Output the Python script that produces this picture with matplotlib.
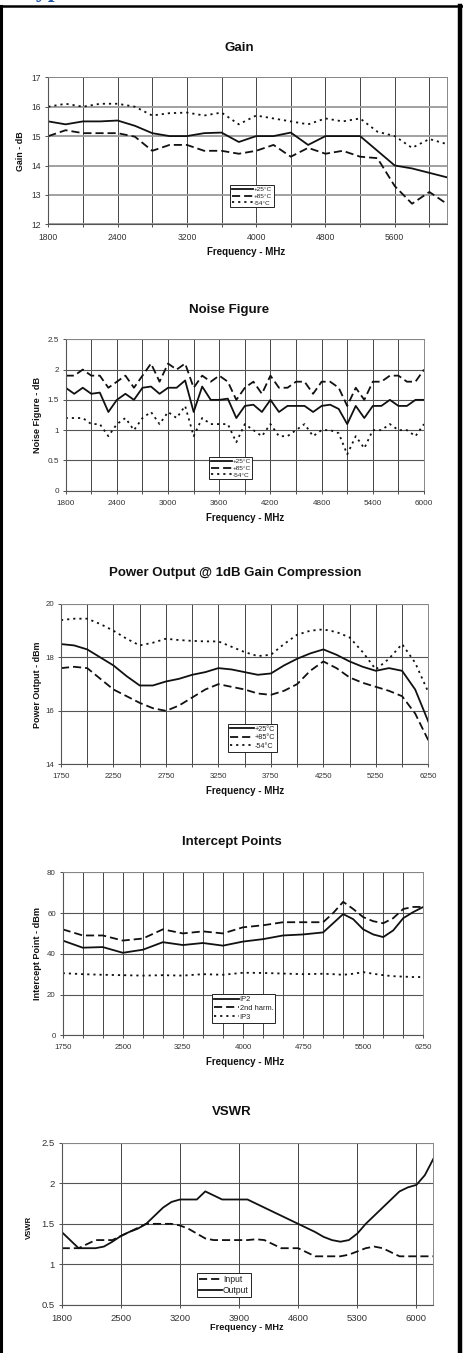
import matplotlib
matplotlib.use("Agg")
import matplotlib.pyplot as plt
from matplotlib.lines import Line2D

plt.rcParams['font.family'] = ['Liberation Sans', 'DejaVu Sans']

W, H = 464, 1353

# ---- Gain (Excel category axis: positions in gridline units) ----
gain_pos = [0, 0.5, 1, 1.5, 2, 2.5, 3, 3.5, 4, 4.5, 5, 5.5, 6, 6.5, 7, 7.5, 8, 8.5, 9, 9.5, 10, 10.5, 11, 11.5]
gain_25 = [15.5, 15.4, 15.5, 15.5, 15.53, 15.35, 15.1, 15.0, 15.0, 15.1, 15.12, 14.8, 15.0, 15.0, 15.12, 14.7,
           15.0, 15.0, 15.0, 14.5, 14.0, 13.9, 13.75, 13.6]
gain_85 = [15.0, 15.2, 15.1, 15.1, 15.1, 14.98, 14.5, 14.7, 14.7, 14.5, 14.5, 14.4, 14.5, 14.7, 14.3, 14.6,
           14.4, 14.5, 14.3, 14.25, 13.3, 12.7, 13.1, 12.7]
gain_54 = [16.0, 16.1, 16.0, 16.1, 16.1, 16.0, 15.7, 15.78, 15.8, 15.7, 15.8, 15.4, 15.7, 15.6, 15.5, 15.4,
           15.6, 15.5, 15.6, 15.15, 15.0, 14.6, 14.9, 14.73]
gain_xlabels = ['1800', '2400', '3200', '4000', '4800', '5600']

# ---- Noise figure ----
nf_freq = list(range(1800, 6001, 100))
nf_25 = [1.7, 1.6, 1.7, 1.6, 1.62, 1.3, 1.5, 1.6, 1.5, 1.7, 1.72, 1.6, 1.7, 1.7, 1.82, 1.3, 1.72, 1.5, 1.5, 1.52,
         1.2, 1.4, 1.42, 1.3, 1.5, 1.3, 1.4, 1.4, 1.4, 1.3, 1.4, 1.42, 1.35, 1.1, 1.4, 1.2, 1.4, 1.4, 1.5, 1.4,
         1.4, 1.5, 1.5]
nf_85 = [1.9, 1.9, 2.0, 1.9, 1.9, 1.7, 1.8, 1.9, 1.7, 1.9, 2.1, 1.8, 2.1, 2.0, 2.1, 1.7, 1.9, 1.8, 1.9, 1.8,
         1.5, 1.7, 1.8, 1.6, 1.9, 1.7, 1.7, 1.8, 1.8, 1.6, 1.8, 1.8, 1.7, 1.4, 1.7, 1.5, 1.8, 1.8, 1.9, 1.9,
         1.8, 1.8, 2.0]
nf_54 = [1.2, 1.2, 1.2, 1.1, 1.1, 0.9, 1.1, 1.2, 1.0, 1.2, 1.3, 1.1, 1.3, 1.2, 1.4, 0.9, 1.2, 1.1, 1.1, 1.1,
         0.8, 1.1, 1.0, 0.9, 1.1, 0.9, 0.9, 1.0, 1.1, 0.9, 1.0, 1.0, 0.95, 0.6, 0.9, 0.7, 1.0, 1.0, 1.1, 1.0,
         1.0, 0.9, 1.1]

# ---- Power output @ 1dB compression (category axis, gridline units) ----
pow_pos = [0, 0.5, 1, 1.5, 2, 2.5, 3, 3.5, 4, 4.5, 5, 5.5, 6, 6.5, 7, 7.5, 8, 8.5, 9, 9.5, 10, 10.5, 11, 11.5,
           12, 12.5, 13, 13.5, 14]
pow_25 = [18.5, 18.45, 18.3, 18.0, 17.7, 17.3, 16.95, 16.95, 17.1, 17.2, 17.35, 17.45, 17.6, 17.55, 17.45, 17.35,
          17.4, 17.7, 17.95, 18.15, 18.3, 18.1, 17.85, 17.65, 17.5, 17.6, 17.5, 16.8, 15.6]
pow_85 = [17.6, 17.65, 17.6, 17.2, 16.8, 16.55, 16.3, 16.1, 16.0, 16.2, 16.5, 16.8, 17.0, 16.9, 16.8, 16.65,
          16.6, 16.75, 17.0, 17.5, 17.85, 17.6, 17.25, 17.05, 16.9, 16.75, 16.55, 15.9, 14.9]
pow_54 = [19.4, 19.45, 19.45, 19.25, 19.0, 18.7, 18.45, 18.55, 18.7, 18.65, 18.62, 18.6, 18.6, 18.4, 18.2, 18.05,
          18.1, 18.5, 18.85, 19.0, 19.05, 18.95, 18.75, 18.2, 17.55, 17.95, 18.5, 17.8, 16.7]
pow_xlabels = ['1750', '2250', '2750', '3250', '3750', '4250', '5250', '6250']

# ---- Intercept points ----
ip_freq = [1750, 2000, 2250, 2500, 2750, 3000, 3250, 3500, 3750, 4000, 4250, 4500, 4750, 5000, 5125, 5250,
           5375, 5500, 5625, 5750, 5875, 6000, 6125, 6250]
ip2 = [46.5, 43, 43.3, 40.5, 42, 45.7, 44.3, 45.3, 44, 46, 47.2, 49, 49.5, 50.5, 55, 59.5, 57, 52, 49.5, 48.2,
       51.5, 57.5, 60.5, 63]
ip2_harm = [52, 49, 49, 46.5, 47.5, 52, 50, 51, 50, 53, 54, 55.5, 55.5, 55.5, 60, 65.5, 62, 58, 56, 55, 57.5,
            62, 63, 63]
ip3 = [30.5, 30, 29.7, 29.5, 29.3, 29.5, 29.3, 30, 29.7, 30.7, 30.6, 30.3, 30, 30.2, 30, 29.7, 30.2, 31, 30.2,
       29.5, 29, 28.8, 28.6, 28.6]

# ---- VSWR ----
vswr_freq = list(range(1800, 6201, 100))
vswr_in = [1.2, 1.2, 1.2, 1.25, 1.3, 1.3, 1.3, 1.35, 1.4, 1.45, 1.5, 1.5, 1.5, 1.5, 1.48, 1.44, 1.38, 1.32, 1.3,
           1.3, 1.3, 1.3, 1.3, 1.31, 1.3, 1.25, 1.2, 1.2, 1.2, 1.15, 1.1, 1.1, 1.1, 1.1, 1.12, 1.16, 1.2, 1.22,
           1.2, 1.15, 1.1, 1.1, 1.1, 1.1, 1.1]
vswr_out = [1.4, 1.3, 1.2, 1.2, 1.2, 1.22, 1.28, 1.35, 1.4, 1.44, 1.5, 1.6, 1.7, 1.77, 1.8, 1.8, 1.8, 1.9, 1.85,
            1.8, 1.8, 1.8, 1.8, 1.75, 1.7, 1.65, 1.6, 1.55, 1.5, 1.45, 1.4, 1.34, 1.3, 1.28, 1.3, 1.38, 1.5, 1.6,
            1.7, 1.8, 1.9, 1.95, 1.98, 2.1, 2.3]

temp_labels = ['+25\u00b0C', '+85\u00b0C', '-54\u00b0C']

SOLID = '-'
DASH = (0, (4.5, 2.2))
DOT = (0, (1.2, 2.2))
LC = '#111111'
LW = 1.3

fig = plt.figure(figsize=(W / 100, H / 100), dpi=100)


def make_ax(left, top, right, bottom):
    return fig.add_axes([left / W, 1 - bottom / H, (right - left) / W, (bottom - top) / H])


def style_ax(ax, xlim, ylim, major_x, minor_x, xlabels, yticks, ylabels, fs, hgrid_color='#555555', hgrid_lw=0.8):
    ax.set_xlim(*xlim)
    ax.set_ylim(*ylim)
    ax.set_xticks(major_x)
    ax.set_xticklabels(xlabels)
    ax.set_xticks(minor_x, minor=True)
    ax.set_yticks(yticks)
    ax.set_yticklabels(ylabels)
    ax.tick_params(which='both', direction='out', length=2.5, width=0.6, colors='#333333',
                   labelsize=fs, pad=2.5, top=False, right=False)
    ax.tick_params(axis='x', pad=4)
    ax.grid(True, axis='x', which='both', color='#444444', lw=0.7)
    ax.grid(True, axis='y', which='major', color=hgrid_color, lw=hgrid_lw)
    ax.set_axisbelow(True)
    for s in ['top', 'right']:
        ax.spines[s].set_linestyle((0, (1, 1)))
        ax.spines[s].set_color('#888888')
        ax.spines[s].set_linewidth(0.7)
    for s in ['left', 'bottom']:
        ax.spines[s].set_color('#555555')
        ax.spines[s].set_linewidth(0.8)


def add_legend(ax, handles, labels, x0, y0, fs=5, hl=3.3):
    leg = ax.legend(handles, labels, loc='upper left', bbox_to_anchor=(x0 / W, 1 - y0 / H),
                    bbox_transform=fig.transFigure, fontsize=fs, handlelength=hl, handletextpad=0.15,
                    borderpad=0.25, labelspacing=0.2, borderaxespad=0, fancybox=False, framealpha=1)
    leg.get_frame().set_edgecolor('#222222')
    leg.get_frame().set_linewidth(0.7)
    for t in leg.get_texts():
        t.set_color('#222222')


def fig_text(x, y, s, size, bold=True, rot=0):
    fig.text(x / W, 1 - y / H, s, ha='center', va='center', fontsize=size,
             fontweight='bold' if bold else 'normal', rotation=rot, color='#111111')


# ---------- Gain ----------
ax = make_ax(48.3, 77.3, 446.7, 224.3)
l1, = ax.plot(gain_pos, gain_25, color=LC, lw=LW, ls=SOLID)
l2, = ax.plot(gain_pos, gain_85, color=LC, lw=LW, ls=DASH)
l3, = ax.plot(gain_pos, gain_54, color=LC, lw=LW, ls=DOT)
style_ax(ax, (0, 11.5), (12, 17), [0, 2, 4, 6, 8, 10], [1, 3, 5, 7, 9, 11], gain_xlabels,
         [12, 13, 14, 15, 16, 17], ['12', '13', '14', '15', '16', '17'], 6.2, hgrid_color='#9a9a9a', hgrid_lw=1.3)
add_legend(ax, [l1, l2, l3], temp_labels, 230.5, 185, fs=4.6)
fig_text(239, 48, 'Gain', 9.5)
fig_text(246, 252, 'Frequency - MHz', 7)
fig_text(20.5, 151, 'Gain - dB', 6.4, rot=90)

# ---------- Noise figure ----------
ax = make_ax(65.7, 339.3, 424, 490.7)
l1, = ax.plot(nf_freq, nf_25, color=LC, lw=LW, ls=SOLID)
l2, = ax.plot(nf_freq, nf_85, color=LC, lw=LW, ls=DASH)
l3, = ax.plot(nf_freq, nf_54, color=LC, lw=LW, ls=DOT)
style_ax(ax, (1800, 6000), (0, 2.5), list(range(1800, 6001, 600)), list(range(2100, 6000, 600)),
         ['1800', '2400', '3000', '3600', '4200', '4800', '5400', '6000'],
         [0, 0.5, 1, 1.5, 2, 2.5], ['0', '0.5', '1', '1.5', '2', '2.5'], 5.9)
add_legend(ax, [l1, l2, l3], temp_labels, 209, 457, fs=4.6)
fig_text(229, 310, 'Noise Figure', 9.5)
fig_text(245, 518, 'Frequency - MHz', 7)
fig_text(37, 415, 'Noise Figure - dB', 6.6, rot=90)

# ---------- Power output ----------
ax = make_ax(61, 604, 428.3, 764.3)
l1, = ax.plot(pow_pos, pow_25, color=LC, lw=LW, ls=SOLID)
l2, = ax.plot(pow_pos, pow_85, color=LC, lw=LW, ls=DASH)
l3, = ax.plot(pow_pos, pow_54, color=LC, lw=LW, ls=DOT)
style_ax(ax, (0, 14), (14, 20), [0, 2, 4, 6, 8, 10, 12, 14], [1, 3, 5, 7, 9, 11, 13], pow_xlabels,
         [14, 16, 18, 20], ['14', '16', '18', '20'], 5.7)
add_legend(ax, [l1, l2, l3], temp_labels, 228, 724, fs=5.2)
fig_text(235, 573, 'Power Output @ 1dB Gain Compression', 9.5)
fig_text(245, 791, 'Frequency - MHz', 7)
fig_text(37, 685, 'Power Output - dBm', 6.4, rot=90)

# ---------- Intercept points ----------
ax = make_ax(62.7, 872.3, 423.3, 1035.3)
l1, = ax.plot(ip_freq, ip2, color=LC, lw=LW, ls=SOLID)
l2, = ax.plot(ip_freq, ip2_harm, color=LC, lw=LW, ls=DASH)
l3, = ax.plot(ip_freq, ip3, color=LC, lw=LW, ls=DOT)
style_ax(ax, (1750, 6250), (0, 80), list(range(1750, 6251, 750)),
         [f for f in range(1750, 6251, 250) if (f - 1750) % 750 != 0],
         ['1750', '2500', '3250', '4000', '4750', '5500', '6250'],
         [0, 20, 40, 60, 80], ['0', '20', '40', '60', '80'], 5.7)
add_legend(ax, [l1, l2, l3], ['IP2', '2nd harm.', 'IP3'], 212, 994, fs=5.4)
fig_text(232, 842, 'Intercept Points', 9.5)
fig_text(245, 1062, 'Frequency - MHz', 7)
fig_text(38, 953, 'Intercept Point - dBm', 6.6, rot=90)

# ---------- VSWR ----------
ax = make_ax(61.7, 1142.7, 433.3, 1305)
l1, = ax.plot(vswr_freq, vswr_in, color=LC, lw=LW, ls=DASH)
l2, = ax.plot(vswr_freq, vswr_out, color=LC, lw=LW, ls=SOLID)
style_ax(ax, (1800, 6200), (0.5, 2.5), list(range(1800, 6001, 700)), [],
         ['1800', '2500', '3200', '3900', '4600', '5300', '6000'],
         [0.5, 1, 1.5, 2, 2.5], ['0.5', '1', '1.5', '2', '2.5'], 6.8)
add_legend(ax, [l1, l2], ['Input', 'Output'], 197, 1273, fs=6.2, hl=2.6)
fig_text(232, 1112, 'VSWR', 9.5)
fig_text(247, 1328, 'Frequency - MHz', 6.6)
fig_text(29, 1227, 'VSWR', 5.6, rot=90)

# ---------- page frame and clipped heading ----------
fig.add_artist(Line2D([1.5 / W, 1.5 / W], [0, 1 - 6 / H], transform=fig.transFigure, color='black', lw=2.2))
fig.add_artist(Line2D([460 / W, 460 / W], [0, 1 - 6 / H], transform=fig.transFigure, color='black', lw=3.2))
fig.add_artist(Line2D([0, 1], [1 - 6 / H, 1 - 6 / H], transform=fig.transFigure, color='black', lw=1.8))
fig.text(22 / W, 1 + 2.5 / H, 'Typical Performance', fontsize=17, fontweight='bold', color='#1f56a6',
         family=['Liberation Serif', 'DejaVu Serif'], ha='left', va='baseline')

fig.savefig('out.png', dpi=100)
